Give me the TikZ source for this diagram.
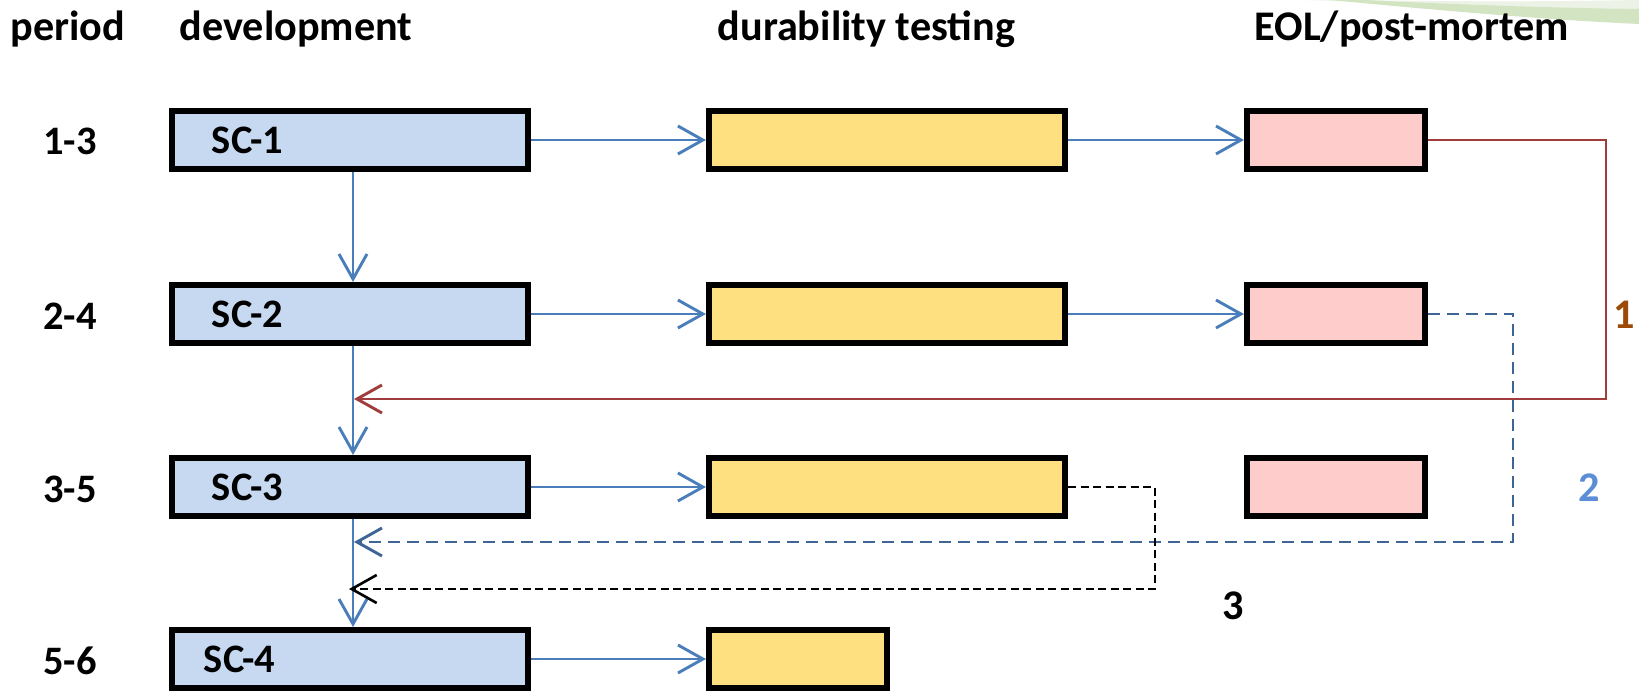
\documentclass[tikz,border=0pt]{standalone}
\usepackage{fontspec}
\setmainfont{Carlito}
\usetikzlibrary{arrows.meta}

\definecolor{boxblue}{HTML}{C6D9F1}
\definecolor{boxyellow}{HTML}{FFE080}
\definecolor{boxpink}{HTML}{FFCCCC}
\definecolor{flowblue}{HTML}{4A7EBB}
\definecolor{loopred}{HTML}{A03C3C}
\definecolor{loopblue}{HTML}{3F6597}
\definecolor{labelbrown}{HTML}{9C4A06}
\definecolor{labelblue}{HTML}{5B8ED6}
\definecolor{swoosh}{HTML}{D3E4C3}
\definecolor{swooshlight}{HTML}{ECF3E6}

\begin{document}
\begin{tikzpicture}[x=0.01cm,y=-0.01cm,
  barb/.tip={Straight Barb[length=0.25cm,width=0.28cm]},
  stage/.style={draw=black, line width=0.06cm, inner sep=0pt, minimum height=0.58cm},
  wide/.style={stage, minimum width=3.56cm},
  narrow/.style={stage, minimum width=1.78cm},
  dev/.style={wide, fill=boxblue, inner xsep=0.40cm, text width=2.76cm, align=left,
    font=\fontsize{11.5}{13}\selectfont\bfseries},
  dur/.style={fill=boxyellow},
  eol/.style={narrow, fill=boxpink},
  head/.style={anchor=base west, inner sep=0pt, font=\fontsize{12}{14}\selectfont\bfseries},
  per/.style={anchor=base, inner sep=0pt, font=\fontsize{11.5}{13}\selectfont\bfseries},
  tag/.style={font=\fontsize{12}{14}\selectfont\bfseries},
  flow/.style={draw=flowblue, line width=0.029cm, -barb},
  loopa/.style={draw=loopred, line width=0.029cm, -barb},
  loopb/.style={draw=loopblue, line width=0.029cm, dash pattern=on 0.12cm off 0.07cm, -barb},
  loopc/.style={draw=black, line width=0.026cm, dash pattern=on 0.08cm off 0.045cm, -barb}
]
% page
\useasboundingbox (0,0) rectangle (1639,691);
\fill[white] (0,0) rectangle (1639,691);

% green swoosh in the top right corner
\begin{scope}
  \clip (0,0) rectangle (1639,691);
  \fill[swooshlight] (1250,-2) .. controls (1420,2) and (1540,2) .. (1639,0)
    -- (1639,10) .. controls (1540,8) and (1420,4) .. (1250,-2) -- cycle;
  \fill[swoosh] (1290,-4) .. controls (1430,4) and (1550,8) .. (1639,9)
    -- (1639,24) .. controls (1550,20) and (1430,10) .. (1290,-4) -- cycle;
\end{scope}

% column headings
\node[head] (hper) at (10,41) {period};
\node[head] (hdev) at (179,41) {development};
\node[head] (hdur) at (717,41) {durability testing};
\node[head] (heol) at (1254,41) {EOL/post-mortem};

% period labels
\node[per] (p1) at (70,155) {1-3};
\node[per] (p2) at (70,329) {2-4};
\node[per] (p3) at (70,502) {3-5};
\node[per] (p4) at (70,674) {5-6};

% development stages
\node[dev] (sc1) at (350,140) {SC-1};
\node[dev] (sc2) at (350,314) {SC-2};
\node[dev] (sc3) at (350,487) {SC-3};
\node[dev, inner xsep=0.32cm, text width=2.92cm] (sc4) at (350,659) {SC-4};

% durability testing
\node[wide, dur] (dur1) at (887,140) {};
\node[wide, dur] (dur2) at (887,314) {};
\node[wide, dur] (dur3) at (887,487) {};
\node[narrow, dur] (dur4) at (798,659) {};

% end of life / post-mortem
\node[eol] (eol1) at (1336,140) {};
\node[eol] (eol2) at (1336,314) {};
\node[eol] (eol3) at (1336,487) {};

% forward flow
\foreach \r in {1,2,3,4}{
  \draw[flow] (sc\r.east) -- (dur\r.west);
}
\draw[flow] (dur1.east) -- (eol1.west);
\draw[flow] (dur2.east) -- (eol2.west);

% development trunk
\coordinate (trunk) at (353,0);
\draw[flow] (sc1.south -| trunk) -- (sc2.north -| trunk);
\draw[flow] (sc2.south -| trunk) -- (sc3.north -| trunk);
\draw[flow] (sc3.south -| trunk) -- (sc4.north -| trunk);

% feedback loops
\coordinate (c1) at (1606,399);
\coordinate (in1) at (354,399);
\draw[loopa] (eol1.east) -| (c1) -- (in1);

\coordinate (c2) at (1513,542);
\coordinate (in2) at (354,542);
\draw[loopb] (eol2.east) -| (c2) -- (in2);

\coordinate (c3) at (1155,589);
\coordinate (in3) at (349,589);
\draw[loopc] (dur3.east) -| (c3) -- (in3);

% loop numbers
\node[tag, text=labelbrown] (n1) at (1624,315) {1};
\node[tag, text=labelblue] (n2) at (1589,488) {2};
\node[tag] (n3) at (1233,606) {3};
\end{tikzpicture}
\end{document}
